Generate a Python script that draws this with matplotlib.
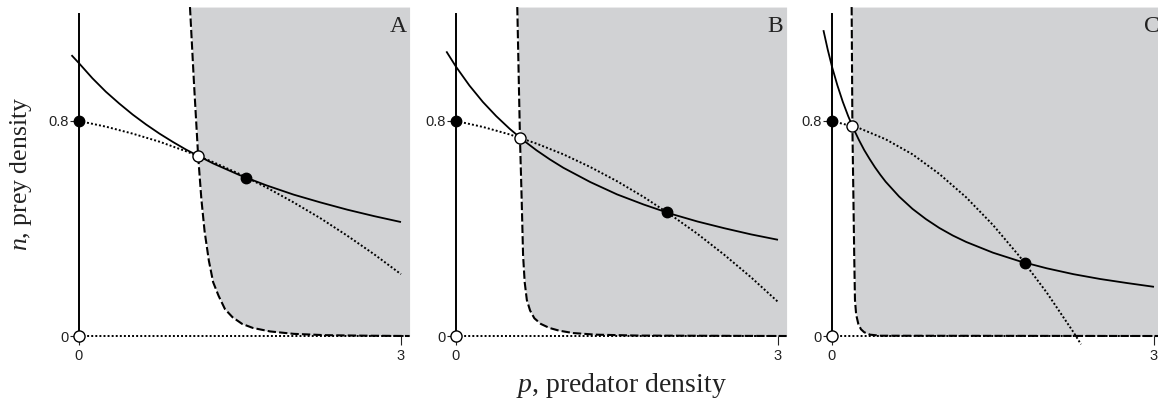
import matplotlib
matplotlib.use("Agg")
import matplotlib.pyplot as plt

# ---------------- data ----------------
panel_letters = ["A", "B", "C"]

# solid isocline
A_solid_p = [-0.07, 0, 0.125, 0.25, 0.375, 0.5, 0.625, 0.75, 0.875, 1.0, 1.25, 1.5, 1.75,
             2.0, 2.25, 2.5, 2.75, 3.0]
A_solid_n = [1.045, 1.015, 0.959, 0.909, 0.865, 0.824, 0.787, 0.753, 0.722, 0.693, 0.642,
             0.598, 0.560, 0.526, 0.497, 0.470, 0.446, 0.424]
B_solid_p = [-0.09, 0, 0.125, 0.25, 0.375, 0.5, 0.625, 0.75, 0.875, 1.0, 1.25, 1.5, 1.75,
             2.0, 2.25, 2.5, 2.75, 3.0]
B_solid_n = [1.059, 1.002, 0.932, 0.871, 0.818, 0.771, 0.729, 0.691, 0.657, 0.626, 0.573,
             0.527, 0.489, 0.455, 0.426, 0.401, 0.378, 0.358]
C_solid_p = [-0.08, -0.04, 0, 0.05, 0.1, 0.15, 0.2, 0.25, 0.3, 0.35, 0.4, 0.45, 0.5, 0.625,
             0.75, 0.875, 1.0, 1.125, 1.25, 1.5, 1.75, 2.0, 2.25, 2.5, 2.75, 3.0]
C_solid_n = [1.138, 1.066, 1.002, 0.933, 0.872, 0.819, 0.772, 0.730, 0.692, 0.659, 0.628,
             0.600, 0.574, 0.519, 0.473, 0.435, 0.402, 0.374, 0.350, 0.310, 0.278, 0.252,
             0.230, 0.212, 0.197, 0.183]

# dotted isocline
A_dot_p = [0, 0.25, 0.5, 0.75, 1.0, 1.25, 1.5, 1.75, 2.0, 2.25, 2.5, 2.75, 3.0]
A_dot_n = [0.800, 0.779, 0.753, 0.723, 0.687, 0.647, 0.602, 0.552, 0.497, 0.438, 0.373, 0.304, 0.230]
B_dot_p = [0, 0.25, 0.5, 0.75, 1.0, 1.25, 1.5, 1.75, 2.0, 2.25, 2.5, 2.75, 3.0]
B_dot_n = [0.800, 0.778, 0.750, 0.716, 0.676, 0.629, 0.576, 0.517, 0.451, 0.380, 0.302, 0.218, 0.127]
C_dot_p = [0, 0.25, 0.5, 0.75, 1.0, 1.25, 1.5, 1.75, 2.0, 2.25, 2.32]
C_dot_n = [0.800, 0.774, 0.732, 0.676, 0.603, 0.516, 0.413, 0.295, 0.162, 0.014, -0.031]

# dashed boundary of the shaded region
A_dash_p = [1.034, 1.07, 1.11, 1.14, 1.17, 1.21, 1.25, 1.30, 1.36, 1.43, 1.52, 1.62, 1.78, 2.0, 2.3, 2.7, 3.08]
A_dash_n = [1.224, 0.95, 0.67, 0.51, 0.39, 0.28, 0.20, 0.15, 0.10, 0.07, 0.045, 0.03, 0.017, 0.008, 0.003, 0.001, 0.0]
B_dash_p = [0.571, 0.585, 0.596, 0.612, 0.625, 0.64, 0.66, 0.69, 0.73, 0.79, 0.87, 0.96, 1.09, 1.3, 1.7, 3.08]
B_dash_n = [1.224, 0.95, 0.738, 0.506, 0.30, 0.20, 0.134, 0.095, 0.066, 0.045, 0.03, 0.02, 0.011, 0.005, 0.0015, 0.0]
C_dash_p = [0.183, 0.19, 0.20, 0.207, 0.214, 0.225, 0.245, 0.27, 0.30, 0.354, 0.45, 3.08]
C_dash_n = [1.224, 0.78, 0.50, 0.30, 0.134, 0.08, 0.045, 0.025, 0.014, 0.005, 0.001, 0.0]

# equilibria
open_p = [1.11, 0.596, 0.19]
open_n = [0.670, 0.738, 0.781]
filled_p = [1.56, 1.963, 1.80]
filled_n = [0.588, 0.460, 0.272]
axis_open_n = 0.0
axis_filled_n = 0.8

x_ticks = [0, 3]
x_ticklabels = ["0", "3"]
y_ticks = [0, 0.8]
y_ticklabels = ["0", "0.8"]

solid_p = [A_solid_p, B_solid_p, C_solid_p]
solid_n = [A_solid_n, B_solid_n, C_solid_n]
dot_p = [A_dot_p, B_dot_p, C_dot_p]
dot_n = [A_dot_n, B_dot_n, C_dot_n]
dash_p = [A_dash_p, B_dash_p, C_dash_p]
dash_n = [A_dash_n, B_dash_n, C_dash_n]

# ---------------- layout / style ----------------
plt.rcParams["font.family"] = ["Liberation Sans", "DejaVu Sans"]
plt.rcParams["mathtext.fontset"] = "custom"
plt.rcParams["mathtext.rm"] = "Liberation Serif"
plt.rcParams["mathtext.it"] = "Liberation Serif:italic"

W, H = 1158, 408
fig = plt.figure(figsize=(W / 100, H / 100), dpi=100)

PX_P = 107.33      # pixels per unit p
PX_N = 268.75      # pixels per unit n
Y0_PX = 336        # pixel row of n = 0
X0_PX = [79, 456, 832]
XL = -0.35
XR = [3.08, 3.08, (W - 832) / PX_P]
YL, YT = -0.04, 1.224
GREY = "#d1d2d4"
SERIF = "Liberation Serif"
DOT = (0, (1.0, 1.1))

for i in range(3):
    left_px = X0_PX[i] + XL * PX_P
    width_px = (XR[i] - XL) * PX_P
    bottom_px = Y0_PX - YL * PX_N
    height_px = (YT - YL) * PX_N
    ax = fig.add_axes([left_px / W, 1 - bottom_px / H, width_px / W, height_px / H])
    ax.set_xlim(XL, XR[i])
    ax.set_ylim(YL, YT)
    ax.patch.set_visible(False)

    # shaded region right of the dashed curve
    ax.fill_betweenx(dash_n[i], dash_p[i], XR[i], color=GREY, lw=0, zorder=0)

    # horizontal dotted line at n = 0
    ax.plot([0, XR[i]], [0, 0], color="k", lw=1.4, ls=DOT, zorder=2, clip_on=False)
    # curves
    ax.plot(dot_p[i], dot_n[i], color="k", lw=1.4, ls=DOT, zorder=3, clip_on=False)
    ax.plot(solid_p[i], solid_n[i], color="k", lw=1.3, zorder=3, solid_capstyle="butt")
    ax.plot(dash_p[i], dash_n[i], color="k", lw=1.5, ls=(0, (4, 1.5)), zorder=3)

    # equilibria markers
    ax.plot([0], [axis_filled_n], "o", ms=7.5, mfc="k", mec="k", zorder=6, clip_on=False)
    ax.plot([filled_p[i]], [filled_n[i]], "o", ms=7.5, mfc="k", mec="k", zorder=6, clip_on=False)
    ax.plot([0], [axis_open_n], "o", ms=8, mfc="white", mec="k", mew=1.0, zorder=6, clip_on=False)
    ax.plot([open_p[i]], [open_n[i]], "o", ms=8, mfc="white", mec="k", mew=1.0, zorder=6, clip_on=False)

    # axes
    for s in ["top", "right"]:
        ax.spines[s].set_visible(False)
    ax.spines["bottom"].set_position(("data", 0))
    ax.spines["bottom"].set_visible(False)
    ax.spines["left"].set_position(("data", 0))
    ax.spines["left"].set_bounds(0, 1.2)
    ax.spines["left"].set_linewidth(1.4)
    ax.spines["left"].set_zorder(2.5)

    ax.set_xticks(x_ticks)
    ax.set_xticklabels(x_ticklabels)
    ax.set_yticks(y_ticks)
    ax.set_yticklabels(y_ticklabels)
    ax.tick_params(axis="x", length=6.5, width=0.8, pad=3.0, labelsize=10.5, colors="#222222")
    ax.tick_params(axis="y", length=6.5, width=0.8, pad=1.2, labelsize=10.5, colors="#222222")

    ax.text(3.05, 1.19, panel_letters[i], ha="right", va="top", fontsize=17,
            family=SERIF, color="#222222", clip_on=False)

fig.text(621 / W, 1 - 392 / H, r"$p$, predator density", ha="center", va="baseline",
         fontsize=20, family=SERIF, color="#222222")
fig.text(21 / W, 1 - 174 / H, r"$n$, prey density", rotation=90, ha="center", va="center",
         fontsize=18.5, family=SERIF, color="#222222")

fig.savefig("out.png", dpi=100)
